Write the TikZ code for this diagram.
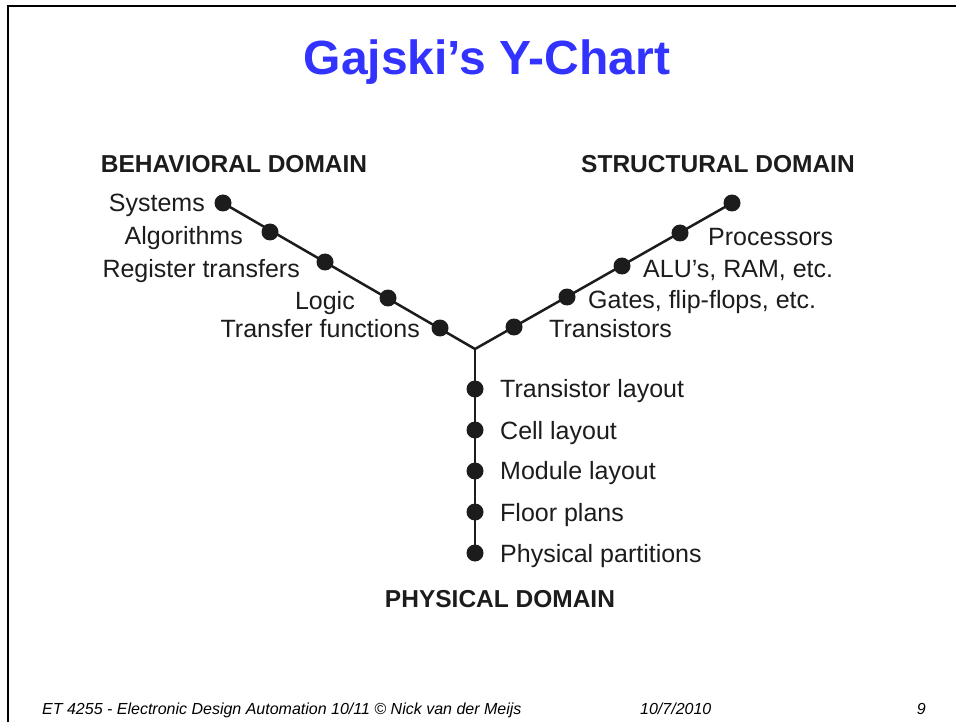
\documentclass[tikz,border=0pt]{standalone}
\usepackage{fontspec}
\setmainfont{Liberation Sans}
\usepackage{tikz}
\usetikzlibrary{positioning}
\definecolor{titleblue}{RGB}{51,51,255}
\definecolor{ink}{RGB}{28,28,28}

\begin{document}
\begin{tikzpicture}[x=1pt,y=-1pt]
\tikzset{every dot/.style={circle,fill=ink,inner sep=0pt,minimum size=17pt}}
\tikzset{every item/.style={font=\fontsize{25}{25}\selectfont,text=ink,inner sep=0pt}}
\tikzset{every domain/.style={font=\fontsize{24.5}{25}\selectfont\bfseries,text=ink,inner sep=0pt,anchor=base}}
\tikzset{every foot/.style={font=\fontsize{16}{16}\selectfont\itshape,inner sep=0pt,anchor=base west}}

   \useasboundingbox (0,0) rectangle (956,722);
   % slide frame
   \draw[line width=2.5pt] (8,722) -- (8,6) -- (956,6);

   \node[font=\fontsize{48}{48}\selectfont\bfseries,text=titleblue,inner sep=0pt,anchor=base]
      (title) at (487,75) {Gajski’s Y-Chart};

   \node[every domain] (beh) at (234,173) {BEHAVIORAL DOMAIN};
   \node[every domain] (str) at (718,173) {STRUCTURAL DOMAIN};
   \node[every domain] (phy) at (500,607) {PHYSICAL DOMAIN};

   % the three axes
   \coordinate (y0) at (475,349);
   \foreach \x/\y [count=\i] in {223/203,270/232,325/262,388/298,440/328}
      \node[every dot] (b\i) at (\x,\y) {};
   \foreach \x/\y [count=\i] in {732/203,680/233,622/266,567/297,514/327}
      \node[every dot] (s\i) at (\x,\y) {};
   \foreach \y [count=\i] in {389,430,471,512,553}
      \node[every dot] (p\i) at (475,\y) {};
   \draw[ink,line width=2.5pt] (b1.center) -- (y0) -- (s1.center);
   \draw[ink,line width=2.5pt] (y0) -- (p5.center);

   % labels
   \foreach \t/\x/\y [count=\i] in {Systems/205/212,Algorithms/243/244,
         Register transfers/300/277,Logic/355/309,Transfer functions/420/337}
      \node[every item,anchor=base east] (bl\i) at (\x,\y) {\t};
   \foreach \t/\x/\y [count=\i] in {Processors/708/246,{ALU's, RAM, etc.}/643/277,
         {Gates, flip-flops, etc.}/588/308,Transistors/549/337}
      \node[every item,anchor=base west] (sl\i) at (\x,\y) {\t};
   \foreach \t/\y [count=\i] in {Transistor layout/397,Cell layout/439,Module layout/479,
         Floor plans/521,Physical partitions/562}
      \node[every item,anchor=base west] (pl\i) at (500,\y) {\t};

   \node[every foot] (foot) at (42,714) {ET 4255 - Electronic Design Automation 10/11 © Nick van der Meijs};
   \node[every foot] (date) at (640,714) {10/7/2010};
   \node[every foot,anchor=base east] (page) at (926,714) {9};
\end{tikzpicture}
\end{document}
